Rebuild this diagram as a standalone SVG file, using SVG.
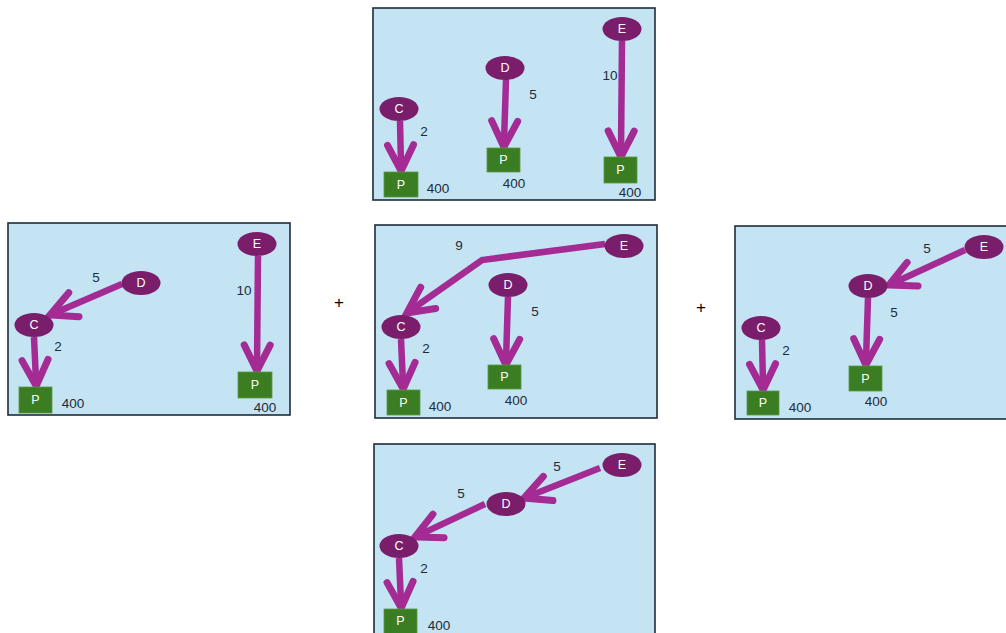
<svg xmlns="http://www.w3.org/2000/svg" width="1006" height="633" viewBox="0 0 1006 633">
<style>
.panel{fill:#C4E4F3;stroke:#1E2C3A;stroke-width:1.6}
.n{fill:#7A1E6B}
.p{fill:#3A7D23;stroke:#5A9A40;stroke-width:0.8}
.nt{fill:#FFFFFF;font-family:"Liberation Sans",Arial,sans-serif;font-size:12.5px;text-anchor:middle;dominant-baseline:central}
.lb{fill:#1E2C3A;font-family:"Liberation Sans",Arial,sans-serif;font-size:13.5px;text-anchor:middle;dominant-baseline:central}
.pl{fill:#000000;font-family:"Liberation Sans",Arial,sans-serif;font-size:17px;text-anchor:middle;dominant-baseline:central}
.c{fill:none;stroke:#A32B93;stroke-width:6.5;marker-end:url(#ah)}
</style>
<defs>
<marker id="ah" markerUnits="userSpaceOnUse" viewBox="-34 -18 44 36" markerWidth="44" markerHeight="36" refX="-5" refY="0" orient="auto">
<path d="M-26,-13 L0,0 L-26,13" fill="none" stroke="#A32B93" stroke-width="7" stroke-linecap="round" stroke-linejoin="miter"/>
</marker>
</defs>
<g id="panels">
<rect class="panel" x="373" y="8" width="282" height="192"/>
<rect class="panel" x="8" y="223" width="282" height="192"/>
<rect class="panel" x="375" y="225" width="282" height="193"/>
<rect class="panel" x="735" y="226" width="280" height="193"/>
<rect class="panel" x="374" y="444" width="281" height="200"/>
</g>
<g id="connectors">
<line class="c" x1="400" y1="121" x2="401" y2="166"/>
<line class="c" x1="506" y1="80" x2="504" y2="142"/>
<line class="c" x1="622" y1="41" x2="621" y2="152"/>
<line class="c" x1="122" y1="284" x2="54.6" y2="313"/>
<line class="c" x1="34" y1="337" x2="36" y2="381"/>
<line class="c" x1="258" y1="256" x2="257" y2="366"/>
<polyline class="c" points="605,244 482,260 411,310"/>
<line class="c" x1="401" y1="339" x2="403" y2="384"/>
<line class="c" x1="508" y1="297" x2="506" y2="360"/>
<line class="c" x1="965" y1="250" x2="893.5" y2="283"/>
<line class="c" x1="762" y1="340" x2="763" y2="385"/>
<line class="c" x1="868" y1="298" x2="866" y2="360"/>
<line class="c" x1="600" y1="468" x2="528.6" y2="496.2"/>
<line class="c" x1="485" y1="504" x2="419.5" y2="534.9"/>
<line class="c" x1="399" y1="558" x2="401" y2="603"/>
</g>
<g id="t-C"><ellipse class="n" cx="399" cy="109" rx="19.5" ry="12"/><text class="nt" x="399" y="109">C</text></g>
<g id="t-D"><ellipse class="n" cx="505" cy="68" rx="19.5" ry="12"/><text class="nt" x="505" y="68">D</text></g>
<g id="t-E"><ellipse class="n" cx="622" cy="29" rx="19.5" ry="12"/><text class="nt" x="622" y="29">E</text></g>
<g id="t-P1"><rect class="p" x="384" y="172" width="34" height="25"/><text class="nt" x="401" y="184.5">P</text></g>
<g id="t-P2"><rect class="p" x="487" y="148" width="33" height="24"/><text class="nt" x="503.5" y="160">P</text></g>
<g id="t-P3"><rect class="p" x="604" y="157" width="33" height="26"/><text class="nt" x="620.5" y="170">P</text></g>
<g id="t-labels">
<text class="lb" x="424" y="131">2</text><text class="lb" x="438" y="188">400</text>
<text class="lb" x="533" y="94">5</text><text class="lb" x="514" y="183">400</text>
<text class="lb" x="610" y="75">10</text><text class="lb" x="630" y="192">400</text>
</g>
<g id="l-D"><ellipse class="n" cx="141" cy="283" rx="19.5" ry="12"/><text class="nt" x="141" y="283">D</text></g>
<g id="l-C"><ellipse class="n" cx="34" cy="325" rx="19.5" ry="12"/><text class="nt" x="34" y="325">C</text></g>
<g id="l-E"><ellipse class="n" cx="257" cy="244" rx="19.5" ry="12"/><text class="nt" x="257" y="244">E</text></g>
<g id="l-P1"><rect class="p" x="19" y="387" width="33" height="26"/><text class="nt" x="35.5" y="400">P</text></g>
<g id="l-P2"><rect class="p" x="238" y="372" width="34" height="26"/><text class="nt" x="255" y="385">P</text></g>
<g id="l-labels">
<text class="lb" x="96" y="277">5</text><text class="lb" x="58" y="346">2</text>
<text class="lb" x="244" y="290">10</text><text class="lb" x="73" y="403">400</text><text class="lb" x="265" y="407">400</text>
</g>
<g id="plus"><text class="pl" x="339" y="302">+</text><text class="pl" x="701" y="307">+</text></g>
<g id="m-E"><ellipse class="n" cx="624" cy="246" rx="19.5" ry="12"/><text class="nt" x="624" y="246">E</text></g>
<g id="m-D"><ellipse class="n" cx="508" cy="285" rx="19.5" ry="12"/><text class="nt" x="508" y="285">D</text></g>
<g id="m-C"><ellipse class="n" cx="401" cy="327" rx="19.5" ry="12"/><text class="nt" x="401" y="327">C</text></g>
<g id="m-P1"><rect class="p" x="387" y="390" width="33" height="25"/><text class="nt" x="403.5" y="402.5">P</text></g>
<g id="m-P2"><rect class="p" x="488" y="365" width="33" height="24"/><text class="nt" x="504.5" y="377">P</text></g>
<g id="m-labels">
<text class="lb" x="459" y="245">9</text><text class="lb" x="426" y="348">2</text><text class="lb" x="535" y="311">5</text>
<text class="lb" x="440" y="406">400</text><text class="lb" x="516" y="400">400</text>
</g>
<g id="r-E"><ellipse class="n" cx="984" cy="247" rx="19.5" ry="12"/><text class="nt" x="984" y="247">E</text></g>
<g id="r-D"><ellipse class="n" cx="868" cy="286" rx="19.5" ry="12"/><text class="nt" x="868" y="286">D</text></g>
<g id="r-C"><ellipse class="n" cx="761" cy="328" rx="19.5" ry="12"/><text class="nt" x="761" y="328">C</text></g>
<g id="r-P1"><rect class="p" x="747" y="391" width="32" height="24"/><text class="nt" x="763" y="403">P</text></g>
<g id="r-P2"><rect class="p" x="849" y="366" width="33" height="25"/><text class="nt" x="865.5" y="378.5">P</text></g>
<g id="r-labels">
<text class="lb" x="927" y="248">5</text><text class="lb" x="894" y="312">5</text><text class="lb" x="786" y="350">2</text>
<text class="lb" x="800" y="407">400</text><text class="lb" x="876" y="401">400</text>
</g>
<g id="b-E"><ellipse class="n" cx="622" cy="465" rx="19.5" ry="12"/><text class="nt" x="622" y="465">E</text></g>
<g id="b-D"><ellipse class="n" cx="506" cy="504" rx="19.5" ry="12"/><text class="nt" x="506" y="504">D</text></g>
<g id="b-C"><ellipse class="n" cx="399" cy="546" rx="19.5" ry="12"/><text class="nt" x="399" y="546">C</text></g>
<g id="b-P"><rect class="p" x="384" y="609" width="33" height="30"/><text class="nt" x="400.5" y="621">P</text></g>
<g id="b-labels">
<text class="lb" x="557" y="466">5</text><text class="lb" x="461" y="493">5</text><text class="lb" x="424" y="568">2</text>
<text class="lb" x="439" y="625">400</text>
</g>
</svg>
